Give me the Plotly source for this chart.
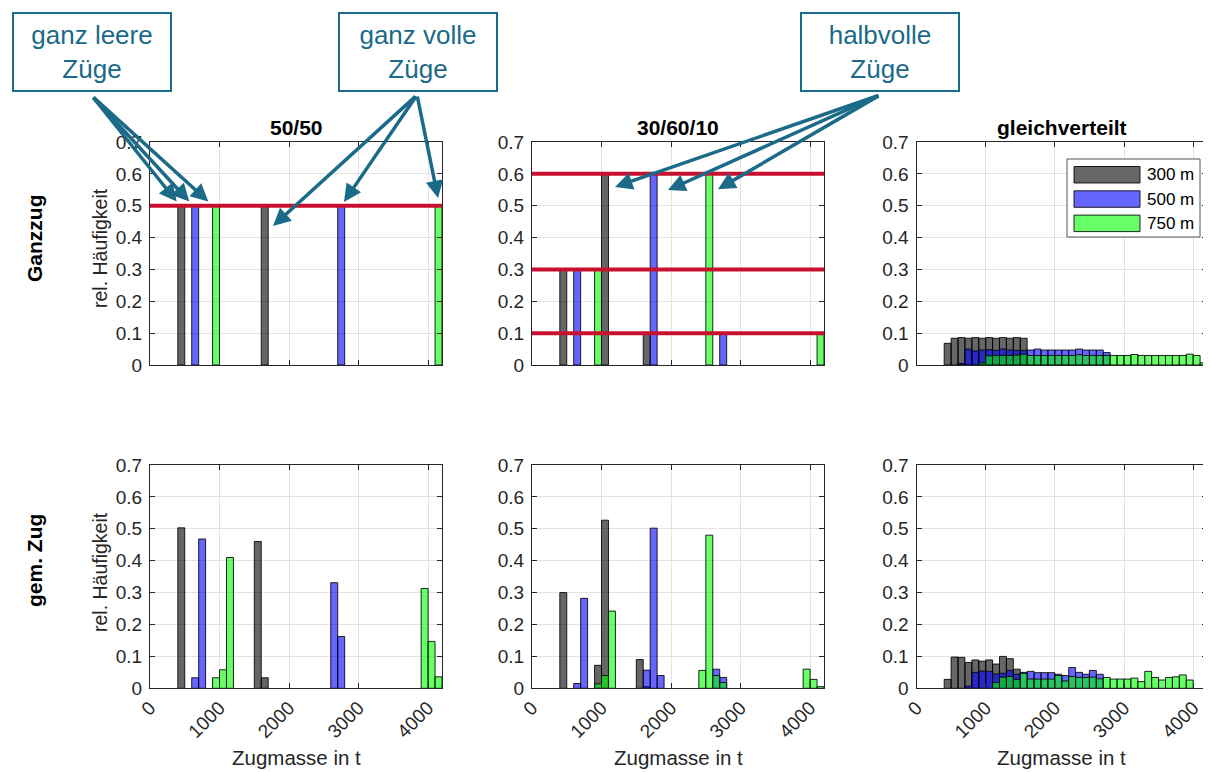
import plotly.graph_objects as go

# page body has an 8 px margin; the figure starts at screen (8, 8)
OFF = 8
W, H = 1211 - OFF, 772 - OFF
BIN = 100  # bin width in t

# ---------------- categories / labels ----------------
series_names = ["300 m", "500 m", "750 m"]
series_fill = ["rgba(0,0,0,0.6)", "rgba(0,0,255,0.6)", "rgba(0,255,0,0.6)"]
col_titles = ["50/50", "30/60/10", "gleichverteilt"]
row_titles = ["Ganzzug", "gem. Zug"]
y_tickvals = [0, 0.1, 0.2, 0.3, 0.4, 0.5, 0.6, 0.7]
y_ticktext = ["0", "0.1", "0.2", "0.3", "0.4", "0.5", "0.6", "0.7"]
x_tickvals = [0, 1000, 2000, 3000, 4000]
x_ticktext = ["0", "1000", "2000", "3000", "4000"]

# ---------------- data (bin left edges in t, rel. frequency) ----------------
# Ganzzug 50/50
gz_5050_300_x = [400, 1600]
gz_5050_300_y = [0.5, 0.5]
gz_5050_500_x = [600, 2700]
gz_5050_500_y = [0.5, 0.5]
gz_5050_750_x = [900, 4100]
gz_5050_750_y = [0.5, 0.5]

# Ganzzug 30/60/10
gz_306010_300_x = [400, 1000, 1600]
gz_306010_300_y = [0.3, 0.6, 0.1]
gz_306010_500_x = [600, 1700, 2700]
gz_306010_500_y = [0.3, 0.6, 0.1]
gz_306010_750_x = [900, 2500, 4100]
gz_306010_750_y = [0.3, 0.6, 0.1]

# Ganzzug gleichverteilt (first bin + consecutive bins)
gz_gl_300_start = 400
gz_gl_300_y = [0.068, 0.084, 0.086, 0.084, 0.086, 0.084, 0.086, 0.084, 0.086, 0.084, 0.086, 0.084]
gz_gl_500_start = 600
gz_gl_500_y = [0.005, 0.05, 0.044, 0.047, 0.048, 0.046, 0.05, 0.047, 0.046, 0.046, 0.047,
               0.05, 0.047, 0.047, 0.047, 0.047, 0.047, 0.05, 0.047, 0.047, 0.047, 0.039]
gz_gl_750_start = 900
gz_gl_750_y = [0.006, 0.029, 0.03, 0.03, 0.03, 0.031, 0.034, 0.03, 0.03, 0.03, 0.03, 0.03,
               0.03, 0.03, 0.032, 0.03, 0.03, 0.03, 0.03, 0.03, 0.03, 0.03, 0.033, 0.03,
               0.03, 0.03, 0.03, 0.03, 0.03, 0.03, 0.034, 0.03, 0.007]

# gem. Zug 50/50
gm_5050_300_x = [400, 1500, 1600]
gm_5050_300_y = [0.503, 0.46, 0.033]
gm_5050_500_x = [600, 700, 2600, 2700]
gm_5050_500_y = [0.033, 0.468, 0.331, 0.162]
gm_5050_750_x = [900, 1000, 1100, 3900, 4000, 4100]
gm_5050_750_y = [0.033, 0.058, 0.41, 0.313, 0.147, 0.036]

# gem. Zug 30/60/10
gm_306010_300_x = [400, 900, 1000, 1500, 1600]
gm_306010_300_y = [0.30, 0.072, 0.527, 0.09, 0.005]
gm_306010_500_x = [600, 700, 1600, 1700, 1800, 2600, 2700]
gm_306010_500_y = [0.015, 0.282, 0.057, 0.502, 0.04, 0.06, 0.034]
gm_306010_750_x = [900, 1000, 1100, 2400, 2500, 2600, 2700, 3900, 4000, 4100]
gm_306010_750_y = [0.014, 0.04, 0.242, 0.056, 0.48, 0.04, 0.018, 0.06, 0.028, 0.005]

# gem. Zug gleichverteilt
gm_gl_300_start = 400
gm_gl_300_y = [0.028, 0.098, 0.097, 0.081, 0.089, 0.085, 0.089, 0.076, 0.1, 0.093, 0.06]
gm_gl_500_start = 700
gm_gl_500_y = [0.007, 0.05, 0.054, 0.053, 0.045, 0.047, 0.056, 0.044, 0.05, 0.053, 0.049,
               0.049, 0.049, 0.044, 0.04, 0.065, 0.05, 0.044, 0.056, 0.044]
gm_gl_750_start = 1100
gm_gl_750_y = [0.018, 0.035, 0.037, 0.028, 0.047, 0.029, 0.029, 0.029, 0.029, 0.04, 0.023,
               0.037, 0.034, 0.034, 0.035, 0.03, 0.034, 0.029, 0.029, 0.029, 0.032, 0.021,
               0.053, 0.034, 0.026, 0.034, 0.036, 0.042, 0.026]

# reference levels (red lines) per top panel
red_levels_5050 = [0.5]
red_levels_306010 = [0.6, 0.3, 0.1]


def seq(start, vals):
    return [start + BIN * i for i in range(len(vals))], vals


panels = [
    (0, 0, [(gz_5050_300_x, gz_5050_300_y), (gz_5050_500_x, gz_5050_500_y), (gz_5050_750_x, gz_5050_750_y)]),
    (0, 1, [(gz_306010_300_x, gz_306010_300_y), (gz_306010_500_x, gz_306010_500_y), (gz_306010_750_x, gz_306010_750_y)]),
    (0, 2, [seq(gz_gl_300_start, gz_gl_300_y), seq(gz_gl_500_start, gz_gl_500_y), seq(gz_gl_750_start, gz_gl_750_y)]),
    (1, 0, [(gm_5050_300_x, gm_5050_300_y), (gm_5050_500_x, gm_5050_500_y), (gm_5050_750_x, gm_5050_750_y)]),
    (1, 1, [(gm_306010_300_x, gm_306010_300_y), (gm_306010_500_x, gm_306010_500_y), (gm_306010_750_x, gm_306010_750_y)]),
    (1, 2, [seq(gm_gl_300_start, gm_gl_300_y), seq(gm_gl_500_start, gm_gl_500_y), seq(gm_gl_750_start, gm_gl_750_y)]),
]

# ---------------- layout geometry (screen pixels) ----------------
col_px = [(150, 442), (532, 824), (916.5, 1207)]
row_px = [(142, 365), (465, 688.3)]
X_MAX, Y_MAX = 4200, 0.7


def px(x):
    return (x - OFF) / W


def py(y):
    return 1 - (y - OFF) / H


FONT = "Liberation Sans, Arial, sans-serif"
AX_COL = "#262626"
TEAL = "#1B6A88"
RED = "#C8102E"

fig = go.Figure()

for (r, c, series) in panels:
    idx = r * 3 + c + 1
    xa = "x" if idx == 1 else f"x{idx}"
    ya = "y" if idx == 1 else f"y{idx}"
    for k, (xs, ys) in enumerate(series):
        fig.add_trace(go.Bar(
            x=[v + BIN / 2 for v in xs], y=ys, width=BIN,
            name=series_names[k], showlegend=False,
            marker=dict(color=series_fill[k], line=dict(color="rgba(0,0,0,0.85)", width=1)),
            xaxis=xa, yaxis=ya,
        ))
    x0, x1 = col_px[c]
    yt, yb = row_px[r]
    axis_common = dict(
        ticks="inside", ticklen=5, tickcolor=AX_COL, showline=True, mirror="ticks",
        linecolor=AX_COL, linewidth=1, showgrid=True, gridcolor="#E3E3E3", gridwidth=1,
        zeroline=False, automargin=False, tickfont=dict(family=FONT, size=19, color=AX_COL),
    )
    xkey = "xaxis" if idx == 1 else f"xaxis{idx}"
    ykey = "yaxis" if idx == 1 else f"yaxis{idx}"
    fig.update_layout(**{
        xkey: dict(axis_common, domain=[px(x0), px(x1)], range=[0, X_MAX],
                   tickvals=x_tickvals, ticktext=x_ticktext,
                   showticklabels=(r == 1), tickangle=-45, anchor=ya),
        ykey: dict(axis_common, domain=[py(yb), py(yt)], range=[0, Y_MAX],
                   tickvals=y_tickvals, ticktext=y_ticktext, anchor=xa,
                   ticklabelstandoff=3),
    })

# red reference lines
shapes = []
for lvl in red_levels_5050:
    shapes.append(dict(type="line", xref="x domain", yref="y", x0=0, x1=1, y0=lvl, y1=lvl,
                       line=dict(color=RED, width=4), layer="above"))
for lvl in red_levels_306010:
    shapes.append(dict(type="line", xref="x2 domain", yref="y2", x0=0, x1=1, y0=lvl, y1=lvl,
                       line=dict(color=RED, width=4), layer="above"))

annotations = []
for c, t in enumerate(col_titles):
    annotations.append(dict(text=f"<b>{t}</b>", xref="paper", yref="paper",
                            x=px(sum(col_px[c]) / 2), y=py(127), showarrow=False,
                            font=dict(family=FONT, size=21, color="black"),
                            xanchor="center", yanchor="middle"))
for r, (t, yc) in enumerate(zip(row_titles, [238, 561])):
    annotations.append(dict(text=f"<b>{t}</b>", xref="paper", yref="paper",
                            x=px(34), y=py(yc), showarrow=False, textangle=-90,
                            font=dict(family=FONT, size=21, color="black"),
                            xanchor="center", yanchor="middle"))
for yc in [248, 572]:
    annotations.append(dict(text="rel. Häufigkeit", xref="paper", yref="paper",
                            x=px(100), y=py(yc), showarrow=False, textangle=-90,
                            font=dict(family=FONT, size=19.5, color=AX_COL),
                            xanchor="center", yanchor="middle"))
for c in range(3):
    annotations.append(dict(text="Zugmasse in t", xref="paper", yref="paper",
                            x=px(sum(col_px[c]) / 2), y=py(757), showarrow=False,
                            font=dict(family=FONT, size=20.5, color=AX_COL),
                            xanchor="center", yanchor="middle"))

callouts = [
    ("ganz leere<br>Züge", 91.5, 52),
    ("ganz volle<br>Züge", 417.5, 52),
    ("halbvolle<br>Züge", 880, 52),
]
for text, cx, cy in callouts:
    annotations.append(dict(text=text, xref="paper", yref="paper", x=px(cx), y=py(cy),
                            showarrow=False, width=156, height=76, align="center", valign="middle",
                            bordercolor=TEAL, borderwidth=2, borderpad=0, bgcolor="white",
                            font=dict(family=FONT, size=26, color=TEAL),
                            xanchor="center", yanchor="middle"))

arrow_sets = [
    ((92, 96), 0, [(384, 0.513), (565, 0.513), (839, 0.513)]),
    ((417, 95), 0, [(1769, 0.436), (2790, 0.512), (4143, 0.524)]),
    ((880, 95), 1, [(1194, 0.559), (1956, 0.549), (2675, 0.552)]),
]
for (tx, ty), c, heads in arrow_sets:
    idx = c + 1
    xa = "x" if idx == 1 else f"x{idx}"
    ya = "y" if idx == 1 else f"y{idx}"
    x0, x1 = col_px[c]
    yt, yb = row_px[0]
    for hx, hy in heads:
        hpx = x0 + hx / X_MAX * (x1 - x0)
        hpy = yb - hy / Y_MAX * (yb - yt)
        annotations.append(dict(text="", xref=xa, yref=ya, x=hx, y=hy, showarrow=True,
                                axref="pixel", ayref="pixel", ax=tx - hpx, ay=ty - hpy,
                                arrowhead=2, arrowsize=1.0, arrowwidth=3.5, arrowcolor=TEAL,
                                standoff=0, startstandoff=0))

leg_box = (1067, 159, 1200, 237)
shapes.append(dict(type="rect", xref="paper", yref="paper",
                   x0=px(leg_box[0]), x1=px(leg_box[2]), y0=py(leg_box[3]), y1=py(leg_box[1]),
                   line=dict(color="#555555", width=1), fillcolor="white", layer="above"))
for k, (name, fill) in enumerate(zip(series_names, series_fill)):
    top = 166.5 + k * 24.3
    shapes.append(dict(type="rect", xref="paper", yref="paper",
                       x0=px(1074), x1=px(1140), y0=py(top + 16.5), y1=py(top),
                       line=dict(color="rgba(0,0,0,0.85)", width=1), fillcolor=fill, layer="above"))
    annotations.append(dict(text=name, xref="paper", yref="paper", x=px(1145), y=py(top + 8.5),
                            showarrow=False, xanchor="left", yanchor="middle",
                            font=dict(family=FONT, size=17, color="black")))

fig.update_layout(
    width=W, height=H, margin=dict(l=0, r=0, t=0, b=0, autoexpand=False),
    plot_bgcolor="white", paper_bgcolor="white", barmode="overlay",
    shapes=shapes, annotations=annotations, showlegend=False,
    font=dict(family=FONT),
)

fig.write_html("out.html")
